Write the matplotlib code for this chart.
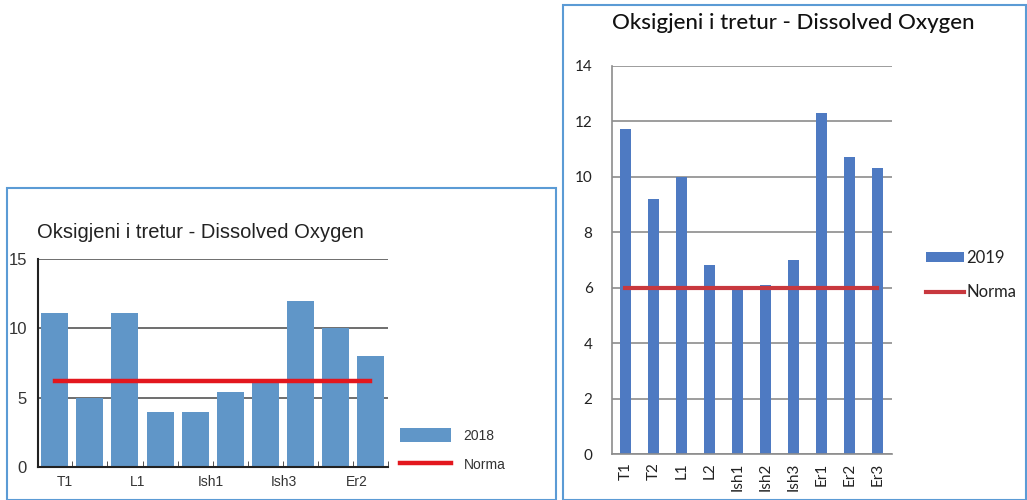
import matplotlib.pyplot as plt
from matplotlib.patches import Rectangle
import numpy as np

W, H = 1027, 500

stations = ["T1", "T2", "L1", "L2", "Ish1", "Ish2", "Ish3", "Er1", "Er2", "Er3"]
do_2018 = [11.1, 5.0, 11.1, 4.0, 4.0, 5.4, 6.2, 12.0, 10.0, 8.0]
do_2019 = [11.7, 9.2, 10.0, 6.8, 5.95, 6.1, 7.0, 12.3, 10.7, 10.3]
norma_2018 = 6.2
norma_2019 = 6.0
labels_2018 = ["T1", "L1", "Ish1", "Ish3", "Er2"]
title = "Oksigjeni i tretur - Dissolved Oxygen"

blue_18 = "#6096C8"
blue_19 = "#4E7AC2"
red_18 = "#E3171E"
red_19 = "#C8383E"
frame = "#5B9BD5"


def px_axes(fig, x0, y0, x1, y1):
    # pixel box (top-left origin) -> figure axes
    return fig.add_axes([x0 / W, (H - y1) / H, (x1 - x0) / W, (y1 - y0) / H])


fig = plt.figure(figsize=(W / 100, H / 100), dpi=100)

# panel frames
fig.patches.append(Rectangle((7 / W, 0.5 / H), 549 / W, (500 - 188) / H, transform=fig.transFigure,
                             fill=False, edgecolor=frame, lw=1.5))
fig.patches.append(Rectangle((563 / W, 0.5 / H), 463 / W, (500 - 5) / H, transform=fig.transFigure,
                             fill=False, edgecolor=frame, lw=1.5))

# ---- left panel: 2018 ----
ax1 = px_axes(fig, 38, 259, 388, 467)
x = np.arange(len(stations))
bars1 = ax1.bar(x, do_2018, width=0.77, color=blue_18, zorder=2, label="2018")
norm1, = ax1.plot([x[0], x[-1]], [norma_2018, norma_2018], color=red_18, lw=3.2, zorder=3, label="Norma")
ax1.set_xlim(-0.48, 9.46)
ax1.set_ylim(0, 15)
ax1.set_yticks([0, 5, 10, 15])
ax1.yaxis.grid(True, color="#555555", lw=1.2, zorder=0)
ax1.set_axisbelow(True)
ax1.set_xticks(np.arange(len(labels_2018)) * 2.08 + 0.28)
ax1.set_xticklabels(labels_2018)
ax1.set_xticks(np.arange(len(stations)) + 0.5, minor=True)
ax1.tick_params(axis="x", which="major", length=0, pad=6, labelsize=10, labelcolor="#333333")
ax1.tick_params(axis="x", which="minor", direction="in", length=4, color="#333333")
ax1.tick_params(axis="y", length=0, pad=8, labelsize=12, labelcolor="#333333")
for s in ["top", "right"]:
    ax1.spines[s].set_visible(False)
ax1.spines["left"].set_color("#222222")
ax1.spines["bottom"].set_color("#222222")
ax1.spines["left"].set_linewidth(1.5)
ax1.spines["bottom"].set_linewidth(1.5)
for t in ax1.get_xticklabels() + ax1.get_yticklabels():
    t.set_fontfamily("Liberation Sans")
fig.text(37 / W, 1 - 232 / H, title, fontsize=14.5, family="Liberation Sans", color="#222222",
         va="center", ha="left")
ax1.legend(handles=[bars1, norm1], loc="center left", bbox_to_anchor=(387 / W, 1 - 450 / H),
           bbox_transform=fig.transFigure, frameon=False, handlelength=3.7, handleheight=1.2,
           handletextpad=0.9, labelspacing=1.0, prop={"family": "Liberation Sans", "size": 10},
           labelcolor="#333333")

# ---- right panel: 2019 ----
ax2 = px_axes(fig, 612, 65.7, 892, 454)
bars2 = ax2.bar(x, do_2019, width=0.4, color=blue_19, zorder=2, label="2019")
norm2, = ax2.plot([x[0], x[-1]], [norma_2019, norma_2019], color=red_19, lw=3, zorder=3, label="Norma")
ax2.set_xlim(-0.48, 9.52)
ax2.set_ylim(0, 14)
ax2.set_yticks(np.arange(0, 15, 2))
ax2.yaxis.grid(True, color="#8C8C8C", lw=1.2, zorder=0)
ax2.set_axisbelow(True)
ax2.set_xticks(x)
ax2.set_xticklabels(stations, rotation=90)
ax2.tick_params(axis="x", length=0, pad=6, labelsize=11, labelcolor="#222222")
ax2.tick_params(axis="y", length=0, pad=14, labelsize=11, labelcolor="#222222")
for s in ["top", "right"]:
    ax2.spines[s].set_visible(False)
ax2.spines["left"].set_color("#8C8C8C")
ax2.spines["bottom"].set_color("#8C8C8C")
ax2.spines["left"].set_linewidth(1.2)
ax2.spines["bottom"].set_linewidth(1.2)
for t in ax2.get_xticklabels() + ax2.get_yticklabels():
    t.set_fontfamily("Lato")
fig.text(612 / W, 1 - 23 / H, title, fontsize=16, family="Lato", fontweight="medium", color="#111111",
         va="center", ha="left")
ax2.legend(handles=[bars2, norm2], loc="center left", bbox_to_anchor=(911 / W, 1 - 275 / H),
           bbox_transform=fig.transFigure, frameon=False, handlelength=2.3, handleheight=0.6,
           handletextpad=0.1, labelspacing=1.1, prop={"family": "Lato", "size": 12},
           labelcolor="#222222")

fig.savefig("out.png", dpi=100)
